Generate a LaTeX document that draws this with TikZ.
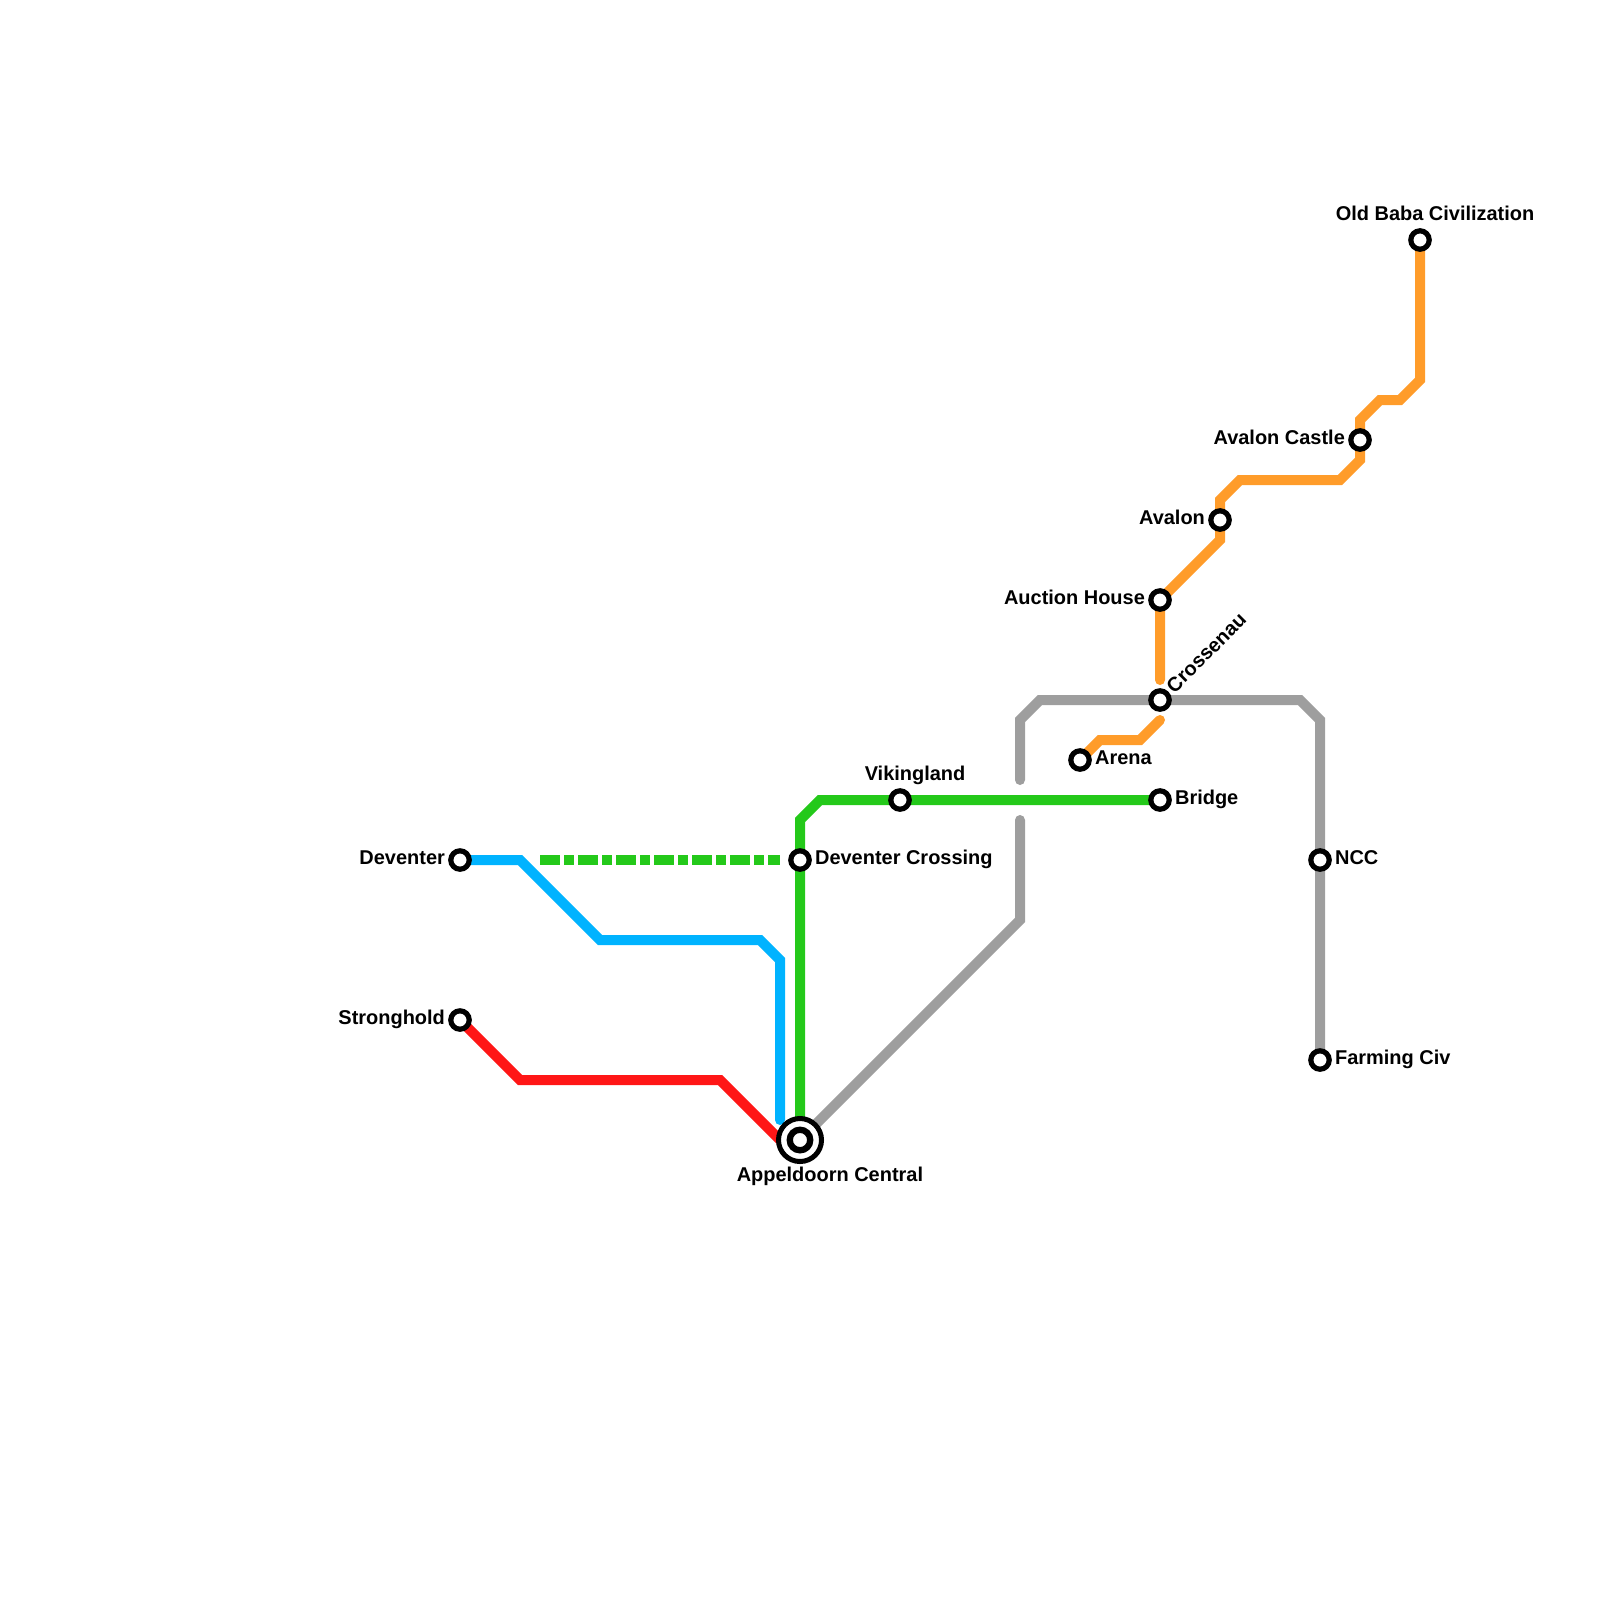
\documentclass[tikz,border=0pt]{standalone}
\usepackage{fontspec}
\setmainfont{Liberation Sans}
\usetikzlibrary{positioning,backgrounds}
\definecolor{redline}{RGB}{255,22,22}
\definecolor{blueline}{RGB}{0,179,255}
\definecolor{greenline}{RGB}{36,201,26}
\definecolor{orangeline}{RGB}{255,156,42}
\definecolor{grayline}{RGB}{158,158,158}
\tikzset{
	metro/.style={line width=7.11pt, line join=miter},
	station/.style={circle, draw=black, fill=white, line width=3.7pt, minimum size=13.1pt, inner sep=0pt, outer sep=0pt},
	hub/.style={circle, draw=black, fill=white, line width=3.56pt, minimum size=30.6pt, inner sep=0pt, outer sep=0pt},
	hubcore/.style={station, line width=4.5pt, minimum size=14.6pt},
	stationlabel/.style={font=\fontsize{14.2}{17}\selectfont\bfseries, inner sep=0pt, text height=10.2pt, text depth=4.4pt},
}
\begin{document}
\begin{tikzpicture}[x=0.5cm, y=-0.5cm]
	\useasboundingbox (0,0) rectangle (80,80);
	\foreach \name/\x/\y in {deventer/23/43, stronghold/23/51, crossing/40/43, vikingland/45/40, bridge/58/40, arena/54/38, crossenau/58/35, auction/58/30, avalon/61/26, castle/68/22, baba/71/12, ncc/66/43, farming/66/53}
		\node[station] (\name) at (\x,\y) {};
	\node[hub] (central) at (40,57) {};
	\node[hubcore] (centralcore) at (40,57) {};
	\begin{scope}[on background layer]
		\coordinate (blueend) at (39,56);
		\coordinate (dashstart) at (27,43);
		\coordinate (dashend) at (39,43);
		\coordinate (grayend) at (51,39);
		\coordinate (graystart) at (51,41);
		\coordinate (orangelow) at (58,36);
		\coordinate (orangehigh) at (58,34);
		\draw[metro, redline] (stronghold) -- (26,54) -- (36,54) -- (39,57) -- (central);
		\draw[metro, blueline, line cap=round] (deventer) -- (26,43) -- (30,47) -- (38,47) -- (39,48) -- (blueend);
		\draw[metro, greenline] (bridge) -- (vikingland) -- (41,40) -- (40,41) -- (crossing) -- (central);
		\draw[greenline, line width=7.11pt, dash pattern=on 14.22pt off 2.85pt on 7.11pt off 2.85pt] (dashstart) -- (dashend);
		\draw[metro, grayline, line cap=round] (farming) -- (ncc) -- (66,36) -- (65,35) -- (crossenau) -- (52,35) -- (51,36) -- (grayend);
		\draw[metro, grayline, line cap=round] (graystart) -- (51,46) -- (central);
		\draw[metro, orangeline, line cap=round] (arena) -- (55,37) -- (57,37) -- (orangelow);
		\draw[metro, orangeline, line cap=round] (orangehigh) -- (auction) -- (61,27) -- (avalon) -- (61,25) -- (62,24) -- (67,24) -- (68,23) -- (castle) -- (68,21) -- (69,20) -- (70,20) -- (71,19) -- (baba);
	\end{scope}
	\node[stationlabel, left=4pt of deventer] (deventerlabel) {Deventer};
	\node[stationlabel, left=4pt of stronghold] (strongholdlabel) {Stronghold};
	\node[stationlabel, left=4pt of auction] (auctionlabel) {Auction House};
	\node[stationlabel, left=4pt of avalon] (avalonlabel) {Avalon};
	\node[stationlabel, left=4pt of castle] (castlelabel) {Avalon Castle};
	\node[stationlabel, right=4pt of crossing] (crossinglabel) {Deventer Crossing};
	\node[stationlabel, right=4pt of bridge] (bridgelabel) {Bridge};
	\node[stationlabel, right=4pt of arena] (arenalabel) {Arena};
	\node[stationlabel, right=4pt of ncc] (ncclabel) {NCC};
	\node[stationlabel, right=4pt of farming] (farminglabel) {Farming Civ};
	\node[stationlabel, above=3pt of vikingland, xshift=10.7pt] (vikinglandlabel) {Vikingland};
	\node[stationlabel, above=3pt of baba, xshift=10.7pt] (babalabel) {Old Baba Civilization};
	\node[stationlabel, below=3.5pt of central, xshift=21.3pt] (centrallabel) {Appeldoorn Central};
	\node[stationlabel, rotate=45, anchor=west] (crossenaulabel) at ([shift={(3.5pt,1.5pt)}]crossenau.north east) {Crossenau};
\end{tikzpicture}
\end{document}
